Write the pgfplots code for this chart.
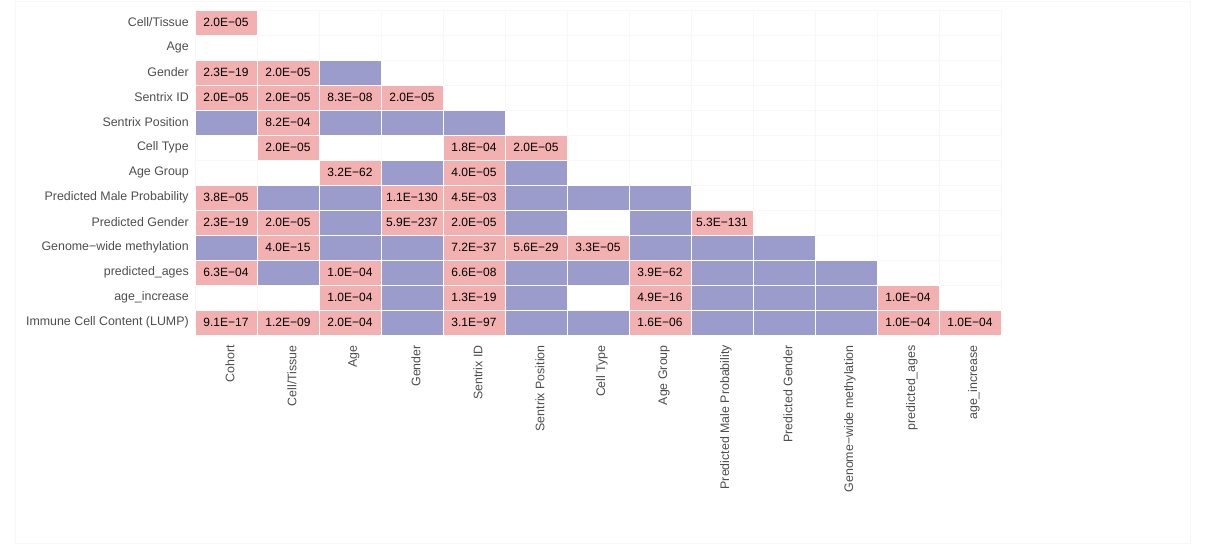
\documentclass[border=0pt]{standalone}
\usepackage{fontspec}
\setmainfont{Liberation Sans}
\usepackage{pgfplots}
\usepackage{pgfplotstable}
\pgfplotsset{compat=1.18}
\definecolor{cpink}{RGB}{242,176,176}
\definecolor{cpurple}{RGB}{156,156,204}
\definecolor{lab}{RGB}{77,77,77}
\pgfdeclareplotmark{cell}{\pgfpathrectangle{\pgfqpoint{-23.25pt}{-9.375pt}}{\pgfqpoint{46.5pt}{18.75pt}}\pgfusepathqfillstroke}
\pgfplotstableread{
x y lab
0.5 0.5 2.0E−05
0.5 2.5 2.3E−19
1.5 2.5 2.0E−05
0.5 3.5 2.0E−05
1.5 3.5 2.0E−05
2.5 3.5 8.3E−08
3.5 3.5 2.0E−05
1.5 4.5 8.2E−04
1.5 5.5 2.0E−05
4.5 5.5 1.8E−04
5.5 5.5 2.0E−05
2.5 6.5 3.2E−62
4.5 6.5 4.0E−05
0.5 7.5 3.8E−05
3.5 7.5 1.1E−130
4.5 7.5 4.5E−03
0.5 8.5 2.3E−19
1.5 8.5 2.0E−05
3.5 8.5 5.9E−237
4.5 8.5 2.0E−05
8.5 8.5 5.3E−131
1.5 9.5 4.0E−15
4.5 9.5 7.2E−37
5.5 9.5 5.6E−29
6.5 9.5 3.3E−05
0.5 10.5 6.3E−04
2.5 10.5 1.0E−04
4.5 10.5 6.6E−08
7.5 10.5 3.9E−62
2.5 11.5 1.0E−04
4.5 11.5 1.3E−19
7.5 11.5 4.9E−16
11.5 11.5 1.0E−04
0.5 12.5 9.1E−17
1.5 12.5 1.2E−09
2.5 12.5 2.0E−04
4.5 12.5 3.1E−97
7.5 12.5 1.6E−06
11.5 12.5 1.0E−04
12.5 12.5 1.0E−04
}\pinktab
\pgfplotstableread{
x y
2.5 2.5
0.5 4.5
2.5 4.5
3.5 4.5
4.5 4.5
3.5 6.5
5.5 6.5
1.5 7.5
2.5 7.5
5.5 7.5
6.5 7.5
7.5 7.5
2.5 8.5
5.5 8.5
7.5 8.5
0.5 9.5
2.5 9.5
3.5 9.5
7.5 9.5
8.5 9.5
9.5 9.5
1.5 10.5
3.5 10.5
5.5 10.5
6.5 10.5
8.5 10.5
9.5 10.5
10.5 10.5
3.5 11.5
5.5 11.5
8.5 11.5
9.5 11.5
10.5 11.5
3.5 12.5
5.5 12.5
6.5 12.5
8.5 12.5
9.5 12.5
10.5 12.5
}\purpletab
\begin{document}
\begin{tikzpicture}
\useasboundingbox (0,0) rectangle (904.5pt,408.75pt);
\draw[black!3, line width=0.5pt] (11.25pt,1.5pt) rectangle (892.5pt,408pt);
\begin{axis}[
  at={(146.25pt,157.5pt)}, anchor=south west,
  width=604.5pt, height=243.75pt, scale only axis,
  xmin=0, xmax=13, ymin=0, ymax=13, y dir=reverse,
  axis line style={draw=none},
  major tick length=0pt, minor tick length=0pt,
  xtick={0.5,1.5,2.5,3.5,4.5,5.5,6.5,7.5,8.5,9.5,10.5,11.5,12.5},
  ytick={0.5,1.5,2.5,3.5,4.5,5.5,6.5,7.5,8.5,9.5,10.5,11.5,12.5},
  minor xtick={0,1,...,13}, minor ytick={0,1,...,13},
  xminorgrids, yminorgrids,
  minor grid style={black!3, line width=0.5pt},
  xticklabels={Cohort,Cell/Tissue,Age,Gender,Sentrix ID,Sentrix Position,Cell Type,Age Group,Predicted Male Probability,Predicted Gender,Genome−wide methylation,predicted\_ages,age\_increase},
  yticklabels={Cell/Tissue,Age,Gender,Sentrix ID,Sentrix Position,Cell Type,Age Group,Predicted Male Probability,Predicted Gender,Genome−wide methylation,predicted\_ages,age\_increase,Immune Cell Content (LUMP)},
  xticklabel style={xshift=3pt, rotate=90, anchor=east, inner sep=0pt, font=\fontsize{9.3pt}{11pt}\selectfont, text=lab},
  yticklabel style={anchor=east, inner sep=0pt, font=\fontsize{9.3pt}{11pt}\selectfont, text=lab},
  xticklabel shift=7.5pt, yticklabel shift=4.5pt,
  clip=false,
]
\addplot[only marks, mark=cell, draw=white, fill=cpurple, line width=0.6pt] table[x=x,y=y] {\purpletab};
\addplot[only marks, mark=cell, draw=white, fill=cpink, line width=0.6pt,
  point meta=explicit symbolic, nodes near coords, nodes near coords align={center},
  every node near coord/.append style={anchor=center, inner sep=0pt, text=black, font=\fontsize{9pt}{10pt}\selectfont}]
  table[x=x,y=y,meta=lab] {\pinktab};
\end{axis}
\end{tikzpicture}
\end{document}
